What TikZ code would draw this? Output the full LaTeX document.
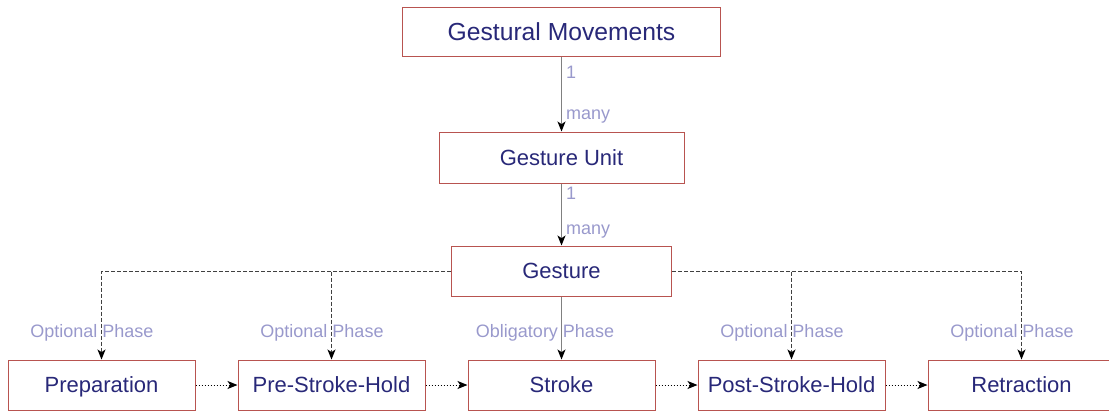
\documentclass[tikz,border=0pt]{standalone}
\usepackage{fontspec}
\setmainfont{Liberation Sans}
\usepackage{tikz}
\usepackage{xcolor}
\usetikzlibrary{arrows.meta}

\definecolor{boxred}{RGB}{184,84,80}
\definecolor{textblue}{RGB}{40,40,120}
\definecolor{lblblue}{RGB}{153,153,204}
\definecolor{linegray}{RGB}{128,128,128}
\definecolor{dashgray}{RGB}{64,64,64}

\begin{document}
\begin{tikzpicture}[x=0.75pt, y=-0.75pt,
        box/.style={draw=boxred, line width=0.75pt, inner sep=0pt, text=textblue,
            text height=11.8pt, text depth=0pt, font=\fontsize{16.5}{20}\selectfont},
        phase/.style={box, minimum width=140.25pt, minimum height=37.5pt},
        lbl/.style={text=lblblue, inner sep=3pt, font=\fontsize{13.5}{16}\selectfont},
        solidarrow/.style={draw=linegray, line width=0.75pt,
            -{Stealth[length=7.5pt, width=6pt, inset=2pt, color=black]}},
        dasharrow/.style={draw=dashgray, line width=0.75pt, dash pattern=on 3pt off 1.5pt,
            -{Stealth[length=7.5pt, width=6pt, inset=2pt, color=black]}},
        dotarrow/.style={draw=black, line width=0.75pt, dash pattern=on 0.75pt off 1.5pt,
            -{Stealth[length=7.5pt, width=6pt, inset=2pt, color=black]}}]
        \useasboundingbox (0,0) rectangle (1109,412);

        \node [box, minimum width=238.5pt, minimum height=36.75pt, text height=13.2pt, font=\fontsize{18.5}{22}\selectfont] (gm) at (561.5,31.5) {Gestural Movements};
        \node [box, minimum width=183.75pt, minimum height=38.25pt] (gu) at (561.5,157.5) {Gesture Unit};
        \node [box, minimum width=165pt, minimum height=37.5pt] (gesture) at (561.5,271) {Gesture};

        \node [phase] (prep) at (101.5,385) {Preparation};
        \node [phase] (pre) at (331.5,385) {Pre-Stroke-Hold};
        \node [phase] (stroke) at (561.5,385) {Stroke};
        \node [phase] (post) at (791.5,385) {Post-Stroke-Hold};
        \node [phase] (retr) at (1021.5,385) {Retraction};

        \draw [solidarrow] (gm) -- node [lbl, pos=0.21, right] {1} node [lbl, pos=0.8, right] {many} (gu);
        \draw [solidarrow] (gu) -- node [lbl, pos=0.16, right] {1} node [lbl, pos=0.78, right] {many} (gesture);

        \draw [dasharrow] (gesture.west) -| (prep);
        \draw [dasharrow] (gesture.west) -| (pre);
        \draw [solidarrow] (gesture) -- (stroke);
        \draw [dasharrow] (gesture.east) -| (post);
        \draw [dasharrow] (gesture.east) -| (retr);

        \node [lbl] (lprep) at (92,333) {Optional Phase};
        \node [lbl] (lpre) at (322,333) {Optional Phase};
        \node [lbl] (lstroke) at (545,333) {Obligatory Phase};
        \node [lbl] (lpost) at (782,333) {Optional Phase};
        \node [lbl] (lretr) at (1012,333) {Optional Phase};

        \draw [dotarrow] (prep) -- (pre);
        \draw [dotarrow] (pre) -- (stroke);
        \draw [dotarrow] (stroke) -- (post);
        \draw [dotarrow] (post) -- (retr);
    \end{tikzpicture}
\end{document}
